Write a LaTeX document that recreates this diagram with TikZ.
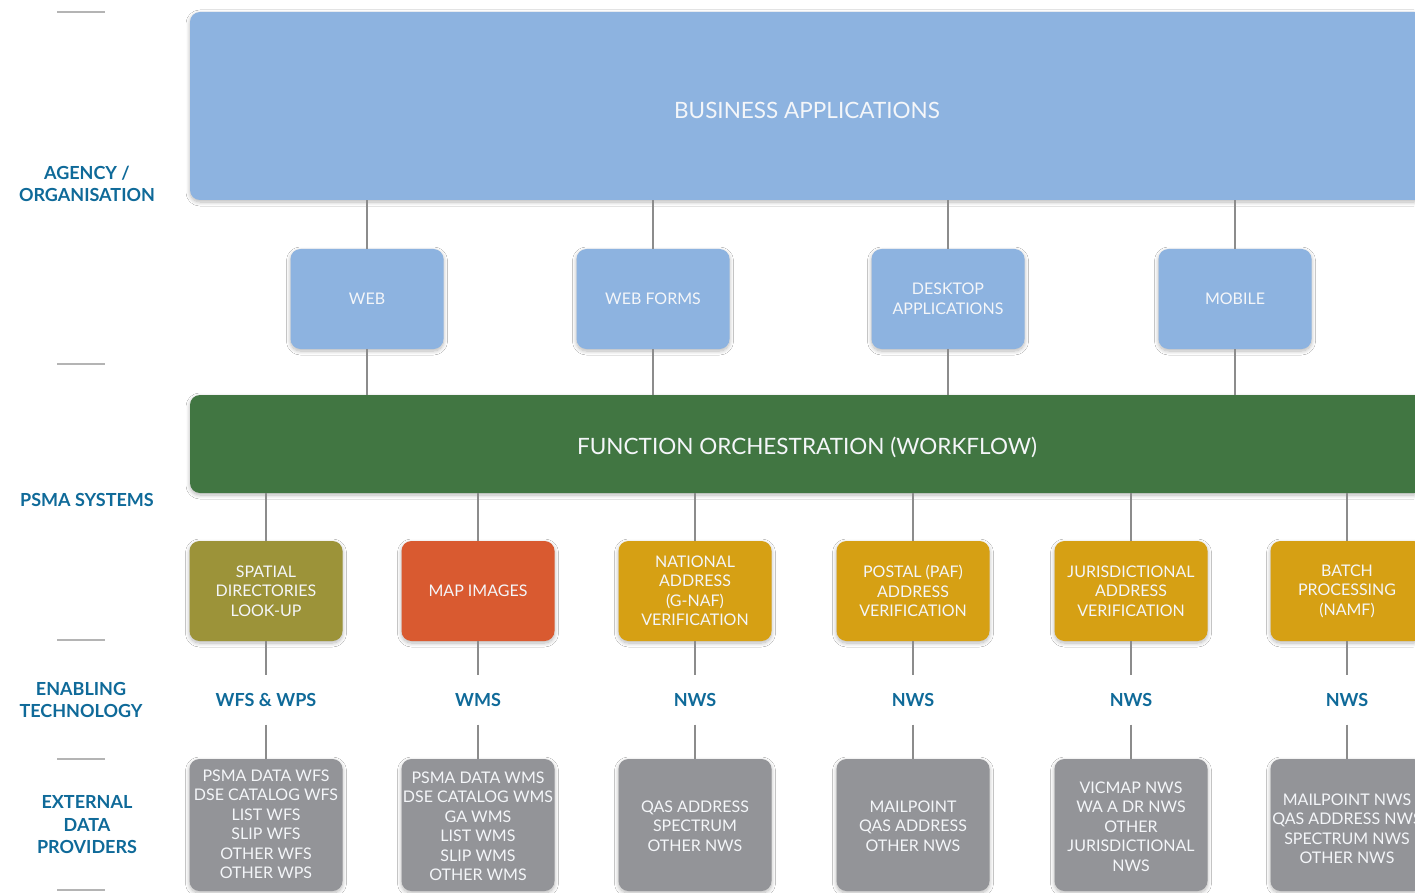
\documentclass[tikz,border=0pt]{standalone}
\usepackage{fontspec}
\setmainfont{Lato}
\usetikzlibrary{shadows.blur}
\definecolor{appblue}{HTML}{8DB3E0}
\definecolor{flowgreen}{HTML}{417642}
\definecolor{olive}{HTML}{9C9339}
\definecolor{maporange}{HTML}{D95A30}
\definecolor{gold}{HTML}{D6A014}
\definecolor{provgray}{HTML}{939498}
\definecolor{linkgray}{HTML}{8C8C8C}
\definecolor{tickgray}{HTML}{B4B4B4}
\definecolor{headblue}{HTML}{0F6A99}
\definecolor{boxtext}{HTML}{F4F6F9}
\begin{document}
\begin{tikzpicture}[x=1pt,y=-1pt,
  panel/.style={rounded corners=10pt, text=boxtext, align=center, inner sep=0pt,
    blur shadow={shadow blur steps=8, shadow xshift=0pt, shadow yshift=-2pt, shadow opacity=28, shadow blur extra rounding=3pt, shadow blur radius=4pt}},
  tile/.style={panel, minimum width=153pt, minimum height=100pt,
    font=\fontsize{16}{19.5}\selectfont},
  provider/.style={panel, fill=provgray, minimum width=153pt, minimum height=132pt},
  ptext/.style={text=boxtext, align=center, inner sep=0pt,
    font=\fontsize{16}{19.5}\selectfont},
  bigtext/.style={text=boxtext, inner sep=0pt, font=\fontsize{22.5}{27}\selectfont},
  tech/.style={text=headblue, font=\bfseries\fontsize{18}{21}\selectfont, inner sep=0pt,
    minimum height=49pt, align=center},
  layer/.style={text=headblue, font=\bfseries\fontsize{18}{22.5}\selectfont, align=center, inner sep=0pt},
  link/.style={draw=linkgray, line width=1.4pt},
  tick/.style={draw=tickgray, line width=1.2pt}]
\useasboundingbox (0,0) rectangle (1415,893);
\clip (0,0) rectangle (1415,893);
\fill[white] (0,0) rectangle (1415,893);

% layer separators on the left
\foreach \yy in {12,364,640,759,890} \draw[tick] (57,\yy) -- (105,\yy);

% layer names
\node[layer] (lagency) at (87,184) {AGENCY /\\ORGANISATION};
\node[layer] (lpsma) at (87,500) {PSMA SYSTEMS};
\node[layer] (lenable) at (81,700) {ENABLING\\TECHNOLOGY};
\node[layer] (lext) at (87,825) {EXTERNAL\\DATA\\PROVIDERS};

% top application layer
\node[panel, fill=appblue, minimum width=1234pt, minimum height=188pt] (apps) at (807,106) {};
\node[bigtext] (appstext) at (807,110) {BUSINESS APPLICATIONS};

\node[tile, fill=appblue] (web) at (367,299) {WEB};
\node[tile, fill=appblue] (forms) at (653,299) {WEB FORMS};
\node[tile, fill=appblue] (desk) at (948,299) {DESKTOP\\APPLICATIONS};
\node[tile, fill=appblue] (mobile) at (1235,299) {MOBILE};

% orchestration layer
\node[panel, fill=flowgreen, minimum width=1234pt, minimum height=98pt] (flow) at (807,444) {};
\node[bigtext] (flowtext) at (807,447) {FUNCTION ORCHESTRATION (WORKFLOW)};

% PSMA systems
\node[tile, fill=olive] (spatial) at (266,591) {SPATIAL\\DIRECTORIES\\LOOK-UP};
\node[tile, fill=maporange] (mapimg) at (478,591) {MAP IMAGES};
\node[tile, fill=gold] (naf) at (695,591) {NATIONAL\\ADDRESS\\(G-NAF)\\VERIFICATION};
\node[tile, fill=gold] (paf) at (913,591) {POSTAL (PAF)\\ADDRESS\\VERIFICATION};
\node[tile, fill=gold] (jur) at (1131,591) {JURISDICTIONAL\\ADDRESS\\VERIFICATION};
\node[tile, fill=gold] (batch) at (1347,591) {BATCH\\PROCESSING\\(NAMF)};

% enabling technology
\node[tech] (t1) at (266,700) {WFS \& WPS};
\node[tech] (t2) at (478,700) {WMS};
\node[tech] (t3) at (695,700) {NWS};
\node[tech] (t4) at (913,700) {NWS};
\node[tech] (t5) at (1131,700) {NWS};
\node[tech] (t6) at (1347,700) {NWS};

% external data providers
\foreach \n/\xx in {p1/266, p2/478, p3/695, p4/913, p5/1131, p6/1347}
  \node[provider] (\n) at (\xx,825) {};
\node[ptext] (p1text) at (266,824.5) {PSMA DATA WFS\\DSE CATALOG WFS\\LIST WFS\\SLIP WFS\\OTHER WFS\\OTHER WPS};
\node[ptext] (p2text) at (478,826.5) {PSMA DATA WMS\\DSE CATALOG WMS\\GA WMS\\LIST WMS\\SLIP WMS\\OTHER WMS};
\node[ptext] (p3text) at (695,826) {QAS ADDRESS\\SPECTRUM\\OTHER NWS};
\node[ptext] (p4text) at (913,826) {MAILPOINT\\QAS ADDRESS\\OTHER NWS};
\node[ptext] (p5text) at (1131,826.5) {VICMAP NWS\\WA A DR NWS\\OTHER\\JURISDICTIONAL\\NWS};
\node[ptext] (p6text) at (1347,829) {MAILPOINT NWS\\QAS ADDRESS NWS\\SPECTRUM NWS\\OTHER NWS};

% connectors
\foreach \n in {web,forms,desk,mobile} {
  \draw[link] (\n.north) -- (\n.north |- apps.south);
  \draw[link] (\n.south) -- (\n.south |- flow.north);
}
\foreach \n/\t/\p in {spatial/t1/p1, mapimg/t2/p2, naf/t3/p3, paf/t4/p4, jur/t5/p5, batch/t6/p6} {
  \draw[link] (\n.north) -- (\n.north |- flow.south);
  \draw[link] (\n.south) -- (\t.north);
  \draw[link] (\t.south) -- (\t.south |- \p.north);
}
\end{tikzpicture}
\end{document}
